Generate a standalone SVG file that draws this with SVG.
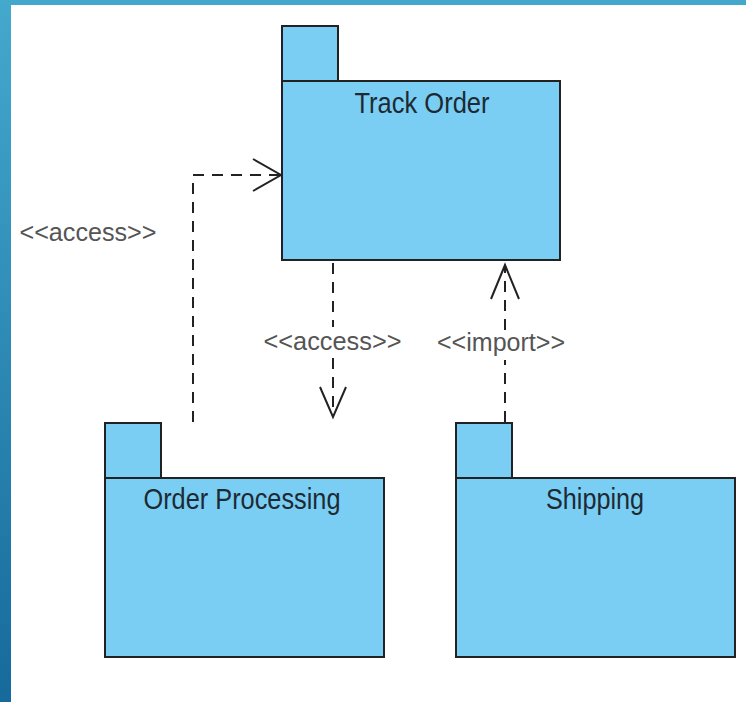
<svg xmlns="http://www.w3.org/2000/svg" width="746" height="702" viewBox="0 0 746 702">
<defs>
<linearGradient id="side" x1="0" y1="0" x2="0" y2="1">
<stop offset="0" stop-color="#44a9cd"/>
<stop offset="1" stop-color="#166a9c"/>
</linearGradient>
<style>
.pkg{fill:#7acef3;stroke:#222;stroke-width:2}
.name{font-family:"Liberation Sans",Arial,sans-serif;font-size:29px;fill:#1e2a33;text-anchor:middle}
.lbl{font-family:"Liberation Sans",Arial,sans-serif;font-size:25px;fill:#555;text-anchor:middle}
.dash{fill:none;stroke:#222;stroke-width:2;stroke-dasharray:11 8}
.head{fill:none;stroke:#222;stroke-width:2}
</style>
</defs>
<rect x="0" y="0" width="746" height="702" fill="#fff"/>
<rect x="0" y="0" width="746" height="5" fill="#43a8cc"/>
<rect x="0" y="0" width="11" height="702" fill="url(#side)"/>

<g id="track-order">
<rect class="pkg" x="282" y="26" width="56" height="55"/>
<rect class="pkg" x="282" y="81" width="278" height="179"/>
<text class="name" x="422" y="113" textLength="135" lengthAdjust="spacingAndGlyphs">Track Order</text>
</g>
<g id="order-processing">
<rect class="pkg" x="105" y="423" width="56" height="55"/>
<rect class="pkg" x="105" y="478" width="279" height="179"/>
<text class="name" x="242" y="509" textLength="197" lengthAdjust="spacingAndGlyphs">Order Processing</text>
</g>
<g id="shipping">
<rect class="pkg" x="456" y="423" width="56" height="55"/>
<rect class="pkg" x="456" y="478" width="279" height="179"/>
<text class="name" x="595" y="509" textLength="98" lengthAdjust="spacingAndGlyphs">Shipping</text>
</g>

<g id="connectors">
<path class="dash" d="M193 422 V175 H280"/>
<path class="head" d="M253 159 L281 175 L253 191"/>
<text class="lbl" x="88" y="241" textLength="137" lengthAdjust="spacingAndGlyphs">&lt;&lt;access&gt;&gt;</text>

<path class="dash" d="M333 263 V327 M333 358 V416"/>
<path class="head" d="M320 387 L333 417 L346 387"/>
<text class="lbl" x="332.5" y="350" textLength="138" lengthAdjust="spacingAndGlyphs">&lt;&lt;access&gt;&gt;</text>

<path class="dash" d="M505 422 V360 M505 330 V265"/>
<path class="head" d="M491 299 L505 265 L519 299"/>
<text class="lbl" x="501" y="351" textLength="128" lengthAdjust="spacingAndGlyphs">&lt;&lt;import&gt;&gt;</text>
</g>
</svg>
